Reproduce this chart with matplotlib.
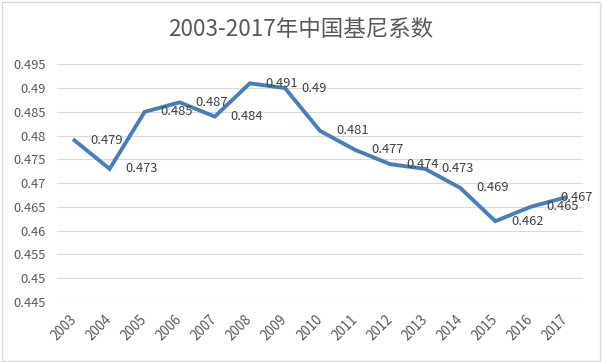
import matplotlib
matplotlib.use("Agg")
import matplotlib.pyplot as plt
from matplotlib.patches import Rectangle

plt.rcParams['font.family'] = ['Noto Sans CJK SC', 'DejaVu Sans']

years = ['2003', '2004', '2005', '2006', '2007', '2008', '2009', '2010',
         '2011', '2012', '2013', '2014', '2015', '2016', '2017']
gini = [0.479, 0.473, 0.485, 0.487, 0.484, 0.491, 0.49, 0.481,
        0.477, 0.474, 0.473, 0.469, 0.462, 0.465, 0.467]
yticks = [0.445, 0.45, 0.455, 0.46, 0.465, 0.47, 0.475, 0.48, 0.485, 0.49, 0.495]
ytick_labels = ['0.445', '0.45', '0.455', '0.46', '0.465', '0.47', '0.475',
                '0.48', '0.485', '0.49', '0.495']
title = '2003-2017年中国基尼系数'

fig = plt.figure(figsize=(6.02, 3.62), dpi=100)
ax = fig.add_axes([57/602, 60/362, 526/602, (302-64.3)/362])

x = list(range(len(years)))
ax.plot(x, gini, color='#4A7EBB', lw=2.8, solid_joinstyle='miter', zorder=3)

n = len(gini)
for i, (xi, v) in enumerate(zip(x, gini)):
    dx = 11.5 if i < n - 1 else -3.5
    ax.annotate(f'{v:g}', (xi, v), xytext=(dx, 0), textcoords='offset points',
                ha='left', va='center', fontsize=9.3, color='#404040', zorder=4)

ax.set_xlim(-0.5, n - 0.5)
ax.set_ylim(0.445, 0.495)
ax.set_yticks(yticks)
ax.set_yticklabels(ytick_labels)
ax.set_xticks(x)
ax.set_xticklabels(years, rotation=45, ha='right', va='center', rotation_mode='anchor')
ax.tick_params(axis='y', length=0, labelsize=9.3, labelcolor='#595959', pad=8)
ax.tick_params(axis='x', length=0, labelsize=9.6, labelcolor='#595959', pad=11)

ax.grid(axis='y', color='#D9D9D9', lw=0.8)
ax.set_axisbelow(True)
for s in ax.spines.values():
    s.set_visible(False)

fig.text(0.5, 1 - 30/362, title, ha='center', va='center', fontsize=16.2, color='#595959')

fig.patches.append(Rectangle((1.5/602, 1.5/362), 598.5/602, 359/362, transform=fig.transFigure,
                             fill=False, edgecolor='#D9D9D9', lw=1))

fig.savefig('out.png', dpi=100, facecolor='white')
